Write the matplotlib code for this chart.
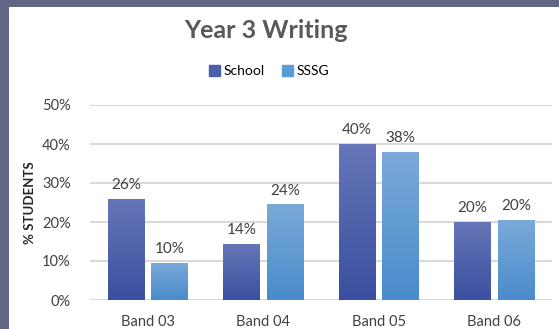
import matplotlib
matplotlib.use("Agg")
import matplotlib.pyplot as plt
import numpy as np
from matplotlib.colors import LinearSegmentedColormap
from matplotlib.patches import Rectangle

categories = ["Band 03", "Band 04", "Band 05", "Band 06"]
school = [25.8, 14.3, 40.0, 20.0]
sssg = [9.5, 24.5, 38.0, 20.5]
series_names = ["School", "SSSG"]
yticks = [0, 10, 20, 30, 40, 50]

FONT = ["Lato", "DejaVu Sans"]
plt.rcParams["font.family"] = FONT

fig = plt.figure(figsize=(5.59, 3.29), dpi=100)
fig.patch.set_facecolor("#616685")
# white chart area
fig.patches.append(Rectangle((9/559, 0), 1 - 9/559, 1 - 7/329, transform=fig.transFigure,
                             facecolor="white", edgecolor="none", zorder=-10))

ax = fig.add_axes([90/559, 29/329, (552-90)/559, (224-29)/329])
ax.set_facecolor("none")

x = np.arange(len(categories))
w = 0.316
off = 0.19
cols = [("#3a4f9f", "#6676b8"), ("#4a8bcb", "#7aaad9")]
solid = ["#4a5fab", "#5b9bd5"]

for si, (vals, name) in enumerate([(school, "School"), (sssg, "SSSG")]):
    pos = x + (-off if si == 0 else off)
    bars = ax.bar(pos, vals, width=w, color=solid[si], label=name, zorder=2)
    cmap = LinearSegmentedColormap.from_list("g%d" % si, [cols[si][0], cols[si][1]])
    grad = np.linspace(0, 1, 256).reshape(-1, 1)
    for b, v in zip(bars, vals):
        im = ax.imshow(grad, cmap=cmap, origin="lower", aspect="auto",
                       extent=(b.get_x(), b.get_x() + b.get_width(), 0, v), zorder=3)
        im.set_clip_path(b)
        ax.annotate(f"{round(v)}%", (b.get_x() + b.get_width()/2, v), xytext=(0, 5),
                    textcoords="offset points", ha="center", va="bottom",
                    fontsize=11, color="#404040", zorder=4)

ax.set_xlim(-0.5, len(categories) - 0.5)
ax.set_ylim(0, 50)
ax.set_yticks(yticks)
ax.set_yticklabels([f"{t}%" for t in yticks], fontsize=10.5, color="#404040")
ax.set_xticks(x)
ax.set_xticklabels(categories, fontsize=10.5, color="#404040")
ax.tick_params(axis="both", length=0)
ax.tick_params(axis="y", pad=14)
ax.tick_params(axis="x", pad=11)
for s in ax.spines.values():
    s.set_visible(False)
ax.yaxis.grid(True, color="#d9d9d9", linewidth=1.5, zorder=0)
ax.set_axisbelow(True)

ax.set_ylabel("% STUDENTS", fontsize=9.5, fontweight="bold", color="#262626", labelpad=4)

fig.text(266/559, 1 - 30/329, "Year 3 Writing", ha="center", va="center",
         fontsize=18, fontweight="bold", color="#595959")

handles = [Rectangle((0, 0), 1, 1, color=solid[0]), Rectangle((0, 0), 1, 1, color=solid[1])]
fig.legend(handles, series_names, loc="center", bbox_to_anchor=(269/559, 1 - 71/329),
           ncol=2, frameon=False, fontsize=10, handlelength=0.8, handleheight=0.8,
           handletextpad=0.3, columnspacing=1.2)

fig.savefig("out.png", dpi=100)
